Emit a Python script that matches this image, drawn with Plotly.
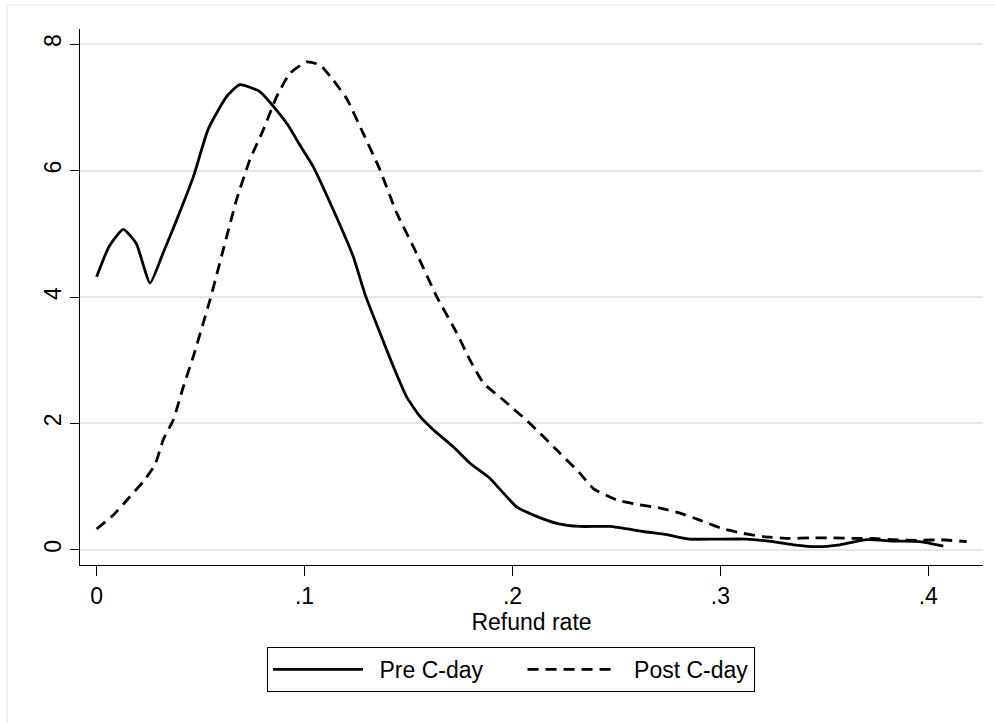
import plotly.graph_objects as go

# Pre C-day kernel density
pre_x = [0.000, 0.006, 0.0128, 0.019, 0.0257, 0.032, 0.0385, 0.0465, 0.0537, 0.0625,
         0.0689, 0.0785, 0.0849, 0.0920, 0.0978, 0.1042, 0.1138, 0.1234, 0.1290, 0.1363,
         0.1427, 0.1491, 0.1555, 0.1619, 0.1715, 0.1796, 0.1892, 0.1956, 0.2020, 0.2116,
         0.2213, 0.2325, 0.2469, 0.2629, 0.2742, 0.2852, 0.2982, 0.3126, 0.3223, 0.3351,
         0.3463, 0.3575, 0.3704, 0.3832, 0.3960, 0.4072]
pre_y = [4.32, 4.80, 5.07, 4.85, 4.22, 4.70, 5.22, 5.90, 6.66, 7.17,
         7.36, 7.25, 7.02, 6.72, 6.40, 6.06, 5.38, 4.64, 4.05, 3.43,
         2.90, 2.42, 2.11, 1.90, 1.63, 1.37, 1.13, 0.90, 0.68, 0.53,
         0.42, 0.37, 0.37, 0.29, 0.24, 0.17, 0.17, 0.17, 0.14, 0.08,
         0.05, 0.08, 0.16, 0.14, 0.13, 0.06]

# Post C-day kernel density
post_x = [0.000, 0.008, 0.016, 0.0224, 0.028, 0.032, 0.0369, 0.0417, 0.0465, 0.0513,
          0.0545, 0.0609, 0.0673, 0.0737, 0.0801, 0.0866, 0.0930, 0.1010, 0.1074, 0.1138,
          0.1202, 0.1282, 0.1363, 0.1443, 0.1539, 0.1635, 0.1732, 0.1796, 0.1860, 0.1956,
          0.2084, 0.2213, 0.2325, 0.2389, 0.2501, 0.2597, 0.2710, 0.2806, 0.2901, 0.3014,
          0.3110, 0.3206, 0.3335, 0.3431, 0.3543, 0.3640, 0.3735, 0.3832, 0.3960, 0.4056,
          0.4185]
post_y = [0.33, 0.55, 0.84, 1.08, 1.34, 1.74, 2.06, 2.58, 3.06, 3.59,
          3.95, 4.75, 5.54, 6.17, 6.64, 7.17, 7.54, 7.72, 7.67, 7.43,
          7.14, 6.59, 6.01, 5.33, 4.69, 4.01, 3.43, 3.00, 2.64, 2.37,
          2.00, 1.58, 1.21, 0.97, 0.79, 0.72, 0.66, 0.58, 0.47, 0.33,
          0.26, 0.21, 0.18, 0.19, 0.19, 0.18, 0.18, 0.16, 0.15, 0.16,
          0.13]

x_tickvals = [0, 0.1, 0.2, 0.3, 0.4]
x_ticktext = ["0", ".1", ".2", ".3", ".4"]
y_tickvals = [0, 2, 4, 6, 8]
y_ticktext = ["0", "2", "4", "6", "8"]

FONT = "Liberation Sans, Arial, Helvetica, sans-serif"
FS = 23

fig = go.Figure()
fig.add_trace(go.Scatter(x=pre_x, y=pre_y, mode="lines", name="\u2002Pre C-day\u2003\u2002",
                         line=dict(color="black", width=2.8, shape="spline", smoothing=0.5)))
fig.add_trace(go.Scatter(x=post_x, y=post_y, mode="lines", name="\u2002Post C-day",
                         line=dict(color="black", width=2.8, dash="11px,7px",
                                   shape="spline", smoothing=0.5)))

W, H = 995, 723
L, R, T, B = 80, 12, 29, 158
pw, ph = W - L - R, H - T - B

def px(xp):
    return (xp - L) / pw

def py(yp):
    return (H - B - yp) / ph

fig.update_layout(
    width=W, height=H,
    margin=dict(l=L, r=R, t=T, b=B, autoexpand=False),
    paper_bgcolor="white", plot_bgcolor="white",
    font=dict(family=FONT, color="black", size=FS),
    showlegend=True,
    legend=dict(orientation="h", x=px(267), xanchor="left", y=py(647), yanchor="top",
                bordercolor="black", borderwidth=1, bgcolor="white",
                font=dict(size=FS, family=FONT), itemwidth=90,
                tracegroupgap=0),
    xaxis=dict(range=[-0.008, 0.4263], tickvals=x_tickvals, ticktext=x_ticktext,
               showline=True, linecolor="black", linewidth=1.2, mirror=False,
               ticks="outside", ticklen=10, tickwidth=1.2, tickcolor="black",
               showgrid=False, zeroline=False,
               tickfont=dict(size=FS, family=FONT),
               title=dict(text="Refund rate", font=dict(size=FS, family=FONT), standoff=5)),
    yaxis=dict(range=[-0.24, 8.24], tickvals=y_tickvals, ticktext=y_ticktext,
               showline=True, linecolor="black", linewidth=1.2, mirror=False,
               ticks="outside", ticklen=9, tickwidth=1.2, tickcolor="black",
               showgrid=True, gridcolor="#e6e6e6", gridwidth=1.5, zeroline=False,
               tickangle=-90, tickfont=dict(size=FS, family=FONT)),
    shapes=[
        dict(type="line", xref="paper", yref="paper", x0=px(7), x1=px(995), y0=py(5), y1=py(5),
             line=dict(color="#ececec", width=1.5)),
        dict(type="line", xref="paper", yref="paper", x0=px(7), x1=px(7), y0=py(5), y1=py(723),
             line=dict(color="#ececec", width=1.5)),
    ],
)

fig.write_html("out.html", config={"displayModeBar": False},
               post_script="document.body.style.margin='0px';")
